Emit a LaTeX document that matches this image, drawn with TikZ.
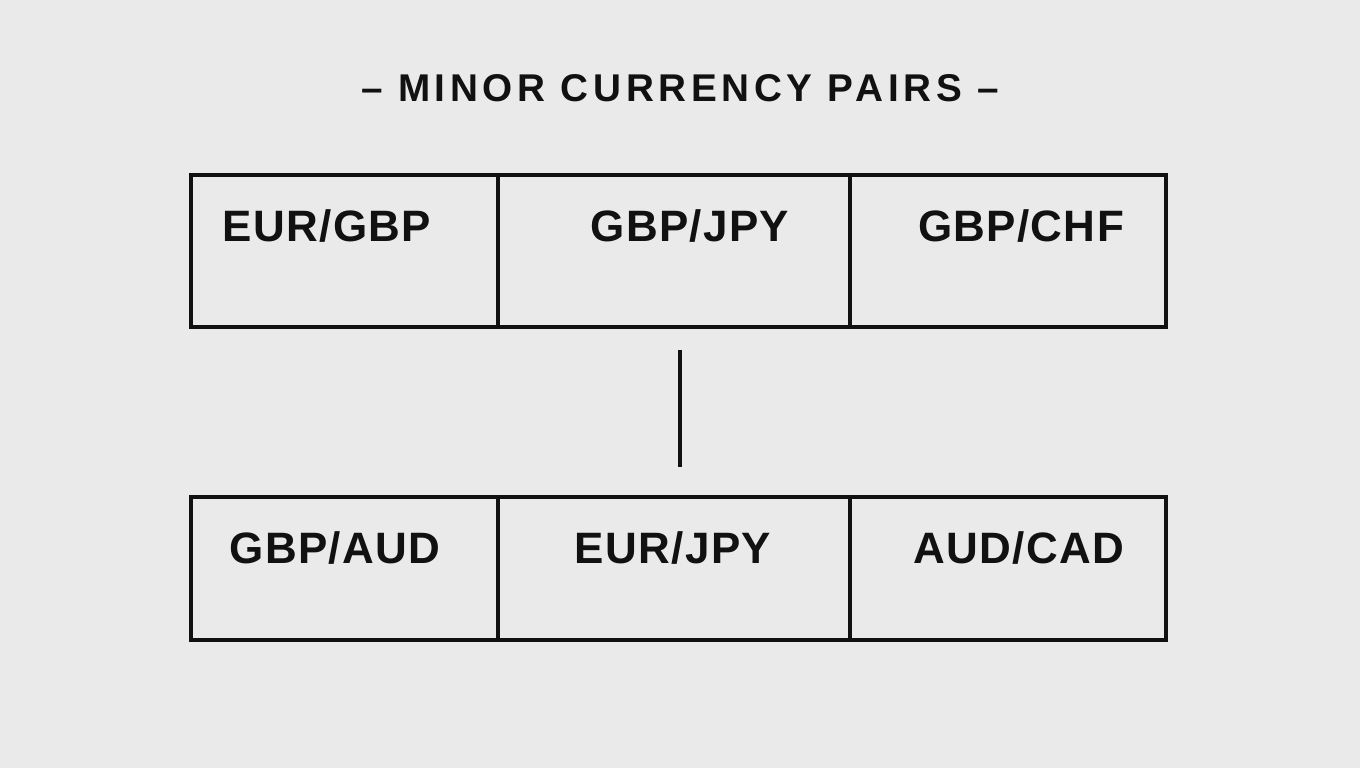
\documentclass[tikz,border=0pt]{standalone}
\usepackage{fontspec}
\setmainfont{Liberation Sans}
\definecolor{paper}{HTML}{EAEAEA}
\definecolor{ink}{HTML}{111111}
\tikzset{
  cell/.style = {draw = ink, line width = 1.1pt, minimum height = 0, inner sep = 0pt},
  pair/.style = {font = \bfseries\fontsize{12.5}{14}\selectfont\addfontfeature{LetterSpace=3}, text = ink},
}
\begin{document}
\begin{tikzpicture}[x = 0.01cm, y = -0.01cm]
  \fill[paper] (0,0) rectangle (1360,768);
  \useasboundingbox (0,0) rectangle (1360,768);
  % title
  \node[text = ink, font = \bfseries\fontsize{11}{13}\selectfont\addfontfeature{LetterSpace=12}] (title) at (680,88) {– MINOR CURRENCY PAIRS –};
  % top row
  \draw[cell] (191,175) rectangle (498,327);
  \draw[cell] (498,175) rectangle (850,327);
  \draw[cell] (850,175) rectangle (1166,327);
  \node[pair] (eurgbp) at (327,226) {EUR/GBP};
  \node[pair] (gbpjpy) at (690,226) {GBP/JPY};
  \node[pair] (gbpchf) at (1021,226) {GBP/CHF};
  % link
  \coordinate (up) at (680,350);
  \coordinate (down) at (680,467);
  \draw[ink, line width = 1.1pt] (up) -- (down);
  % bottom row
  \draw[cell] (191,497) rectangle (498,640);
  \draw[cell] (498,497) rectangle (850,640);
  \draw[cell] (850,497) rectangle (1166,640);
  \node[pair] (gbpaud) at (335,548) {GBP/AUD};
  \node[pair] (eurjpy) at (673,548) {EUR/JPY};
  \node[pair] (audcad) at (1019,548) {AUD/CAD};
\end{tikzpicture}
\end{document}
